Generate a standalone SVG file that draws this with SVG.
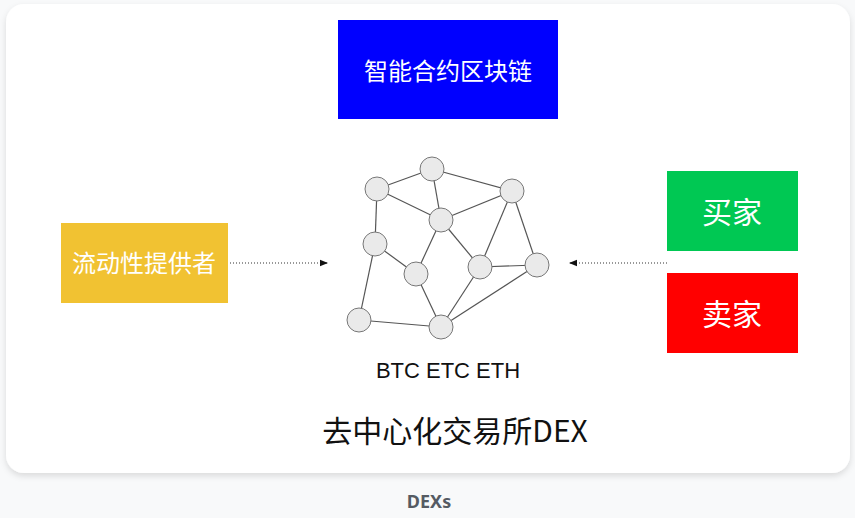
<svg xmlns="http://www.w3.org/2000/svg" width="855" height="518" viewBox="0 0 855 518">
<defs>
<filter id="sh" x="-5%" y="-5%" width="110%" height="115%">
<feDropShadow dx="0" dy="3" stdDeviation="3" flood-color="#000" flood-opacity="0.12"/>
</filter>
<marker id="ah" viewBox="0 0 10 10" refX="10" refY="5" markerWidth="8" markerHeight="8" markerUnits="userSpaceOnUse" orient="auto">
<path d="M0,1 L10,5 L0,9 Z" fill="#111"/>
</marker>
<style>
.box-t{font-family:"Noto Sans CJK SC","Noto Sans",sans-serif;fill:#fff;text-anchor:middle}
.n{fill:#eaeaea;stroke:#777;stroke-width:1}
.e{stroke:#555;stroke-width:1.2;fill:none}
.dot{stroke:#333;stroke-width:1.2;stroke-dasharray:1 2;fill:none}
</style>
</defs>
<rect width="855" height="518" fill="#f8f9fa"/>
<rect x="6" y="4" width="844" height="469" rx="18" fill="#fff" filter="url(#sh)"/>
<g id="chain">
<rect x="338" y="20" width="220" height="99" fill="#0000ff"/>
<text class="box-t" x="448" y="80" font-size="24">智能合约区块链</text>
</g>
<g id="provider">
<rect x="61" y="223" width="167" height="80" fill="#f1c232"/>
<text class="box-t" x="144" y="272" font-size="24">流动性提供者</text>
</g>
<g id="buyer">
<rect x="667" y="171" width="131" height="80" fill="#00c853"/>
<text class="box-t" x="732" y="223" font-size="30">买家</text>
</g>
<g id="seller">
<rect x="667" y="273" width="131" height="80" fill="#ff0000"/>
<text class="box-t" x="732" y="325" font-size="30">卖家</text>
</g>
<g id="connectors">
<line class="dot" x1="230" y1="263" x2="328" y2="263" marker-end="url(#ah)"/>
<line class="dot" x1="667" y1="263" x2="569" y2="263" marker-end="url(#ah)"/>
</g>
<g id="network">
<g class="e">
<line x1="432" y1="169" x2="377" y2="189"/>
<line x1="432" y1="169" x2="512" y2="191"/>
<line x1="432" y1="169" x2="441" y2="220"/>
<line x1="377" y1="189" x2="441" y2="220"/>
<line x1="377" y1="189" x2="375" y2="244"/>
<line x1="512" y1="191" x2="441" y2="220"/>
<line x1="512" y1="191" x2="480" y2="267"/>
<line x1="512" y1="191" x2="537" y2="265"/>
<line x1="441" y1="220" x2="416" y2="274"/>
<line x1="441" y1="220" x2="480" y2="267"/>
<line x1="375" y1="244" x2="416" y2="274"/>
<line x1="375" y1="244" x2="359" y2="320"/>
<line x1="416" y1="274" x2="441" y2="327"/>
<line x1="480" y1="267" x2="537" y2="265"/>
<line x1="480" y1="267" x2="441" y2="327"/>
<line x1="537" y1="265" x2="441" y2="327"/>
<line x1="359" y1="320" x2="441" y2="327"/>
</g>
<circle class="n" cx="432" cy="169" r="12"/>
<circle class="n" cx="377" cy="189" r="12"/>
<circle class="n" cx="512" cy="191" r="12"/>
<circle class="n" cx="441" cy="220" r="12"/>
<circle class="n" cx="375" cy="244" r="12"/>
<circle class="n" cx="416" cy="274" r="12"/>
<circle class="n" cx="480" cy="267" r="12"/>
<circle class="n" cx="537" cy="265" r="12"/>
<circle class="n" cx="359" cy="320" r="12"/>
<circle class="n" cx="441" cy="327" r="12"/>
</g>
<text x="448" y="378" font-family="'Liberation Sans',Arial,sans-serif" font-size="22" fill="#111" text-anchor="middle">BTC ETC ETH</text>
<text x="455" y="442" font-family="'Noto Sans CJK SC','Noto Sans',sans-serif" font-size="30" fill="#111" text-anchor="middle">去中心化交易所DEX</text>
<text x="429" y="508" font-family="'Noto Sans','Open Sans',sans-serif" font-size="18" font-weight="bold" fill="#555b63" text-anchor="middle">DEXs</text>
</svg>
